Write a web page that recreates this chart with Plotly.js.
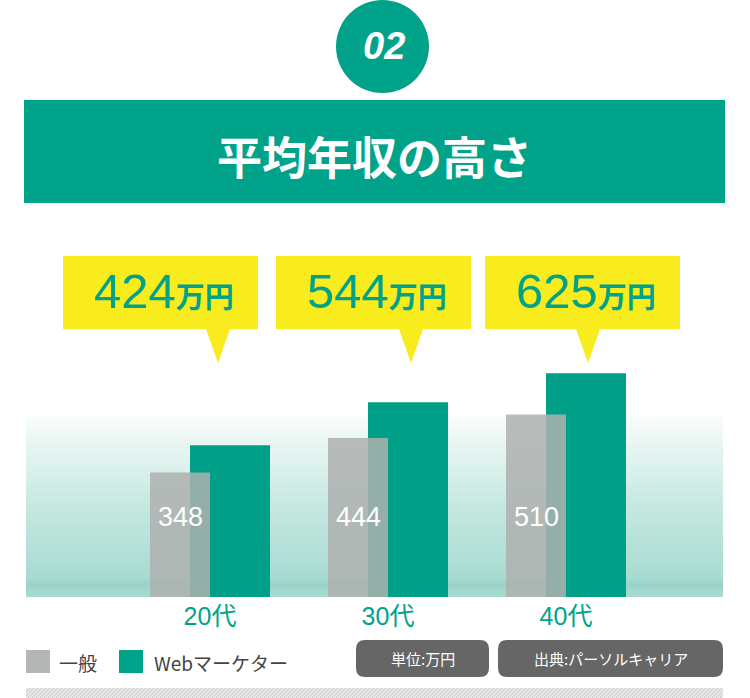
<!DOCTYPE html>
<html>
<head>
<meta charset="utf-8">
<script src="https://cdn.plot.ly/plotly-3.0.1.min.js"></script>
<style>
  html, body { margin: 0; padding: 0; background: #fff; }
  #chart { width: 750px; height: 698px; }
</style>
</head>
<body>
<div id="chart"></div>
<script>
// data
const ages = ['20代', '30代', '40代'];
const general = [348, 444, 510];
const marketer = [424, 544, 625];
const seriesNames = ['一般', 'Webマーケター'];
const badge = '02';
const heading = '平均年収の高さ';
const unit = '万円';
const notes = ['単位:万円', '出典:パーソルキャリア'];

const W = 750, H = 698;
const TEAL = '#00a28a';
const YELLOW = '#f8eb1e';
const JP = 'Noto Sans CJK JP, sans-serif';
const NUM = 'Liberation Sans, Arial, Noto Sans CJK JP, sans-serif';

// pixel -> paper helpers
const px = x => x / W;
const py = y => 1 - y / H;

// background gradient behind the bars
function gradientImage() {
    const c = document.createElement('canvas');
    c.width = 697; c.height = 182;
    const g = c.getContext('2d');
    const grd = g.createLinearGradient(0, 0, 0, 182);
    grd.addColorStop(0, '#fbfdfd');
    grd.addColorStop(0.15, '#e9f6f3');
    grd.addColorStop(0.5, '#c6e8e1');
    grd.addColorStop(0.9, '#a7dbd0');
    grd.addColorStop(0.93, '#98d3c7');
    grd.addColorStop(0.97, '#a3d9ce');
    grd.addColorStop(1, '#a6dbd0');
    g.fillStyle = grd;
    g.fillRect(0, 0, 697, 182);
    return c.toDataURL();
}

function hatchImage() {
    const c = document.createElement('canvas');
    c.width = 697; c.height = 10;
    const g = c.getContext('2d');
    g.fillStyle = '#e6e6e6';
    g.fillRect(0, 0, 697, 10);
    g.strokeStyle = '#cdcdcd';
    g.lineWidth = 1;
    for (let x = -10; x < 710; x += 4) {
        g.beginPath();
        g.moveTo(x, 10);
        g.lineTo(x + 10, 0);
        g.stroke();
    }
    return c.toDataURL();
}

function roundRect(x0, y0, x1, y1, r) {
    const p = (x, y) => px(x) + ',' + py(y);
    return 'M' + p(x0 + r, y0) + ' L' + p(x1 - r, y0) + ' Q' + p(x1, y0) + ' ' + p(x1, y0 + r) +
        ' L' + p(x1, y1 - r) + ' Q' + p(x1, y1) + ' ' + p(x1 - r, y1) +
        ' L' + p(x0 + r, y1) + ' Q' + p(x0, y1) + ' ' + p(x0, y1 - r) +
        ' L' + p(x0, y0 + r) + ' Q' + p(x0, y0) + ' ' + p(x0 + r, y0) + ' Z';
}

function callout(x0, x1, tip) {
    const p = (x, y) => px(x) + ',' + py(y);
    return 'M' + p(x0, 256) + ' L' + p(x1, 256) + ' L' + p(x1, 329) +
        ' L' + p(tip + 12, 329) + ' L' + p(tip, 363) + ' L' + p(tip - 12, 329) +
        ' L' + p(x0, 329) + ' Z';
}

const boxes = [[63, 258, 218], [276, 471, 411], [485, 680, 588]];

const shapes = [
    {type: 'circle', xref: 'paper', yref: 'paper', x0: px(336), x1: px(429), y0: py(93), y1: py(0),
     fillcolor: TEAL, line: {width: 0}},
    {type: 'rect', xref: 'paper', yref: 'paper', x0: px(24), x1: px(725), y0: py(203), y1: py(100),
     fillcolor: TEAL, line: {width: 0}},
    // legend swatches
    {type: 'rect', xref: 'paper', yref: 'paper', x0: px(26), x1: px(50), y0: py(673), y1: py(650),
     fillcolor: '#b4b6b5', line: {width: 0}},
    {type: 'rect', xref: 'paper', yref: 'paper', x0: px(119), x1: px(143), y0: py(673), y1: py(650),
     fillcolor: TEAL, line: {width: 0}},
    {type: 'path', xref: 'paper', yref: 'paper', path: roundRect(356, 640, 489, 677, 9),
     fillcolor: '#666666', line: {width: 0}},
    {type: 'path', xref: 'paper', yref: 'paper', path: roundRect(498, 640, 723, 677, 9),
     fillcolor: '#666666', line: {width: 0}}
];
boxes.forEach(b => shapes.push({type: 'path', xref: 'paper', yref: 'paper', path: callout(b[0], b[1], b[2]),
    fillcolor: YELLOW, line: {width: 0}}));

function label(x, y, text, font, xanchor) {
    return {xref: 'paper', yref: 'paper', x: px(x), y: py(y), text: text, showarrow: false,
            xanchor: xanchor || 'center', yanchor: 'middle', font: font};
}

const annotations = [
    label(384, 46, '<b><i>' + badge + '</i></b>', {family: NUM, size: 38, color: '#fff'}),
    label(374, 155, '<b>' + heading + '</b>', {family: JP, size: 45, color: '#fff'}),
    label(57, 662, seriesNames[0], {family: JP, size: 19, color: '#444'}, 'left'),
    label(152, 662, seriesNames[1], {family: JP, size: 19, color: '#444'}, 'left'),
    label(422.5, 658, notes[0], {family: JP, size: 15, color: '#fff'}),
    label(610.5, 658, notes[1], {family: JP, size: 15, color: '#fff'})
];
marketer.forEach((v, i) => annotations.push(
    label((boxes[i][0] + boxes[i][1]) / 2 + 3, 291,
          v + '<span style="font-size:29px"><b>' + unit + '</b></span>',
          {family: NUM, size: 49, color: TEAL})
));
general.forEach((v, i) => annotations.push({
    xref: 'x', yref: 'y', x: ages[i], y: 223, xshift: -30, text: String(v), showarrow: false,
    xanchor: 'center', yanchor: 'middle',
    font: {family: NUM, size: 27, color: '#fff'}
}));

const spacing = 178;
const data = [
    {type: 'bar', x: ages, y: marketer, name: seriesNames[1], width: 80 / spacing, offset: -20 / spacing,
     marker: {color: '#00a088'}, hoverinfo: 'skip'},
    {type: 'bar', x: ages, y: general, name: seriesNames[0], width: 60 / spacing, offset: -60 / spacing,
     marker: {color: 'rgba(174,176,175,0.85)'}, hoverinfo: 'skip'}
];

const layout = {
    width: W,
    height: H,
    margin: {l: 0, r: 0, t: 0, b: 0},
    paper_bgcolor: '#ffffff',
    plot_bgcolor: 'rgba(0,0,0,0)',
    showlegend: false,
    barmode: 'overlay',
    xaxis: {
        domain: [px(26), px(723)],
        type: 'category',
        range: [-(210 - 26) / spacing, 2 + (723 - 566) / spacing],
        showgrid: false, zeroline: false, showline: false, ticks: '',
        ticklabelstandoff: 2,
        tickfont: {family: NUM, size: 25, color: TEAL}
    },
    yaxis: {
        domain: [py(597), py(360)],
        range: [0, 237 / 0.358],
        visible: false, fixedrange: true
    },
    images: [
        {source: gradientImage(), xref: 'paper', yref: 'paper', x: px(26), y: py(415),
         sizex: 697 / W, sizey: 182 / H, sizing: 'stretch', layer: 'below', xanchor: 'left', yanchor: 'top'},
        {source: hatchImage(), xref: 'paper', yref: 'paper', x: px(26), y: py(688),
         sizex: 697 / W, sizey: 10 / H, sizing: 'stretch', layer: 'below', xanchor: 'left', yanchor: 'top'}
    ],
    shapes: shapes,
    annotations: annotations
};

Plotly.newPlot('chart', data, layout, {displayModeBar: false, staticPlot: true});
</script>
</body>
</html>
